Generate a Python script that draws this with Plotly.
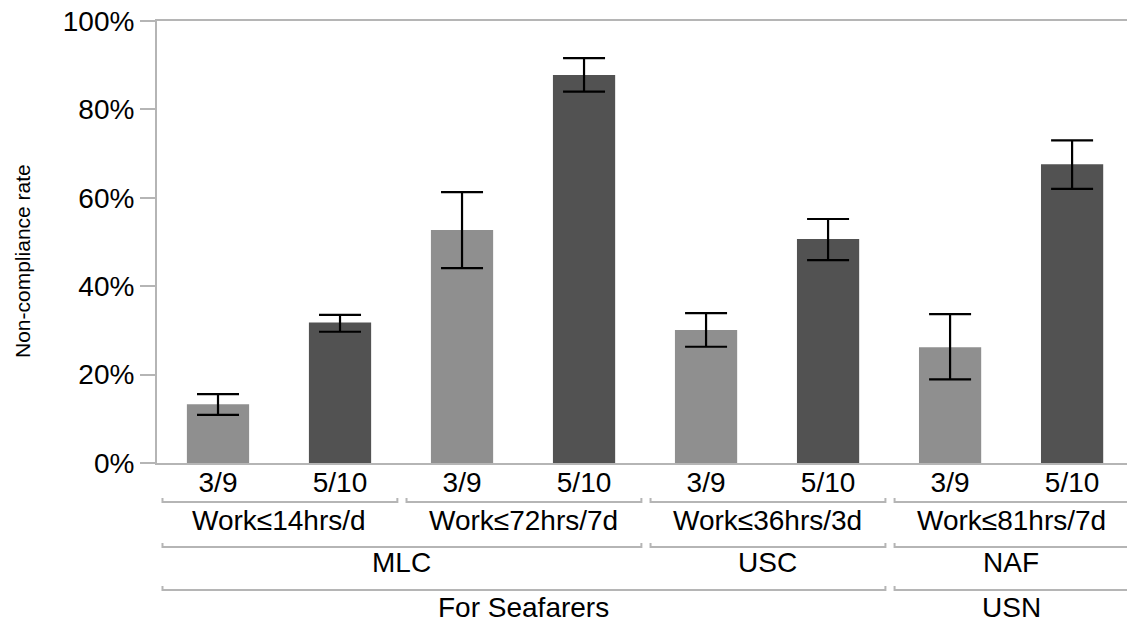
import plotly.graph_objects as go

# ---- data ----
bar_labels = ["3/9", "5/10", "3/9", "5/10", "3/9", "5/10", "3/9", "5/10"]
values = [13.3, 31.8, 52.7, 87.8, 30.1, 50.7, 26.2, 67.6]
upper = [15.6, 33.5, 61.3, 91.6, 33.9, 55.2, 33.7, 73.0]
lower = [10.9, 29.7, 44.1, 84.0, 26.3, 45.9, 18.9, 62.0]

# group levels: (label, first index, last index)
level1 = [("Work≤14hrs/d", 0, 1), ("Work≤72hrs/7d", 2, 3),
          ("Work≤36hrs/3d", 4, 5), ("Work≤81hrs/7d", 6, 7)]
level2 = [("MLC", 0, 3), ("USC", 4, 5), ("NAF", 6, 7)]
level3 = [("For Seafarers", 0, 5), ("USN", 6, 7)]

y_ticks = [0, 20, 40, 60, 80, 100]

# ---- styles ----
LIGHT = "#8f8f8f"
DARK = "#525252"
GRAY = "#b5b5b5"
FONT = "Liberation Sans, Arial, Helvetica, sans-serif"
FS = 28

W, H = 1127, 623
ML, MR, MT, MB = 157, 0, 21, 160
plot_h = H - MT - MB


def ypaper(px):
    return (H - MB - px) / plot_h


x = list(range(len(values)))
colors = [LIGHT if lab == "3/9" else DARK for lab in bar_labels]

fig = go.Figure()
fig.add_trace(go.Bar(
    x=x, y=values, width=0.51,
    marker=dict(color=colors, line=dict(width=0)),
    error_y=dict(type="data", symmetric=False,
                 array=[u - v for u, v in zip(upper, values)],
                 arrayminus=[v - l for v, l in zip(values, lower)],
                 color="black", thickness=2.2, width=21),
    hoverinfo="skip",
))

shapes = []
annotations = []
levels = [(level1, 502, 520), (level2, 547, 562), (level3, 590, 607)]
for groups, line_px, text_px in levels:
    yl = ypaper(line_px)
    yt = ypaper(line_px - 4)
    for label, i0, i1 in groups:
        x0 = i0 - 0.5 + 0.045
        x1 = i1 + 0.5 - 0.03
        shapes.append(dict(
            type="path", xref="x", yref="paper",
            path=f"M {x0},{yt} L {x0},{yl} L {x1},{yl} L {x1},{yt}",
            line=dict(color=GRAY, width=2)))
        annotations.append(dict(
            x=(i0 + i1) / 2, y=ypaper(text_px), xref="x", yref="paper",
            text=label, showarrow=False, xanchor="center", yanchor="middle",
            font=dict(size=FS, color="black", family=FONT)))

annotations.append(dict(
    x=(22 - ML) / (W - ML - MR), y=ypaper(261), xref="paper", yref="paper",
    text="Non-compliance rate", textangle=-90, showarrow=False,
    xanchor="center", yanchor="middle",
    font=dict(size=21, color="black", family=FONT)))

fig.update_layout(
    width=W, height=H,
    margin=dict(l=ML, r=MR, t=MT, b=MB, pad=0),
    paper_bgcolor="white", plot_bgcolor="white",
    showlegend=False,
    font=dict(family=FONT, color="black"),
    shapes=shapes, annotations=annotations,
    xaxis=dict(
        range=[-0.5, 7.45], tickmode="array", tickvals=x, ticktext=bar_labels,
        showgrid=False, zeroline=False, showline=True, linecolor=GRAY,
        linewidth=2, mirror=True, ticks="", tickfont=dict(size=FS),
        ticklabelstandoff=-7, fixedrange=True,
    ),
    yaxis=dict(
        range=[0, 100], tickmode="array", tickvals=y_ticks,
        ticktext=[f"{v}%" for v in y_ticks],
        showgrid=False, zeroline=False, showline=True, linecolor=GRAY,
        linewidth=2, ticks="outside", ticklen=15, tickwidth=2, tickcolor=GRAY,
        tickfont=dict(size=FS), fixedrange=True,
    ),
)

fig.write_html("out.html", config={"displayModeBar": False},
               post_script="document.body.style.margin='0';")
